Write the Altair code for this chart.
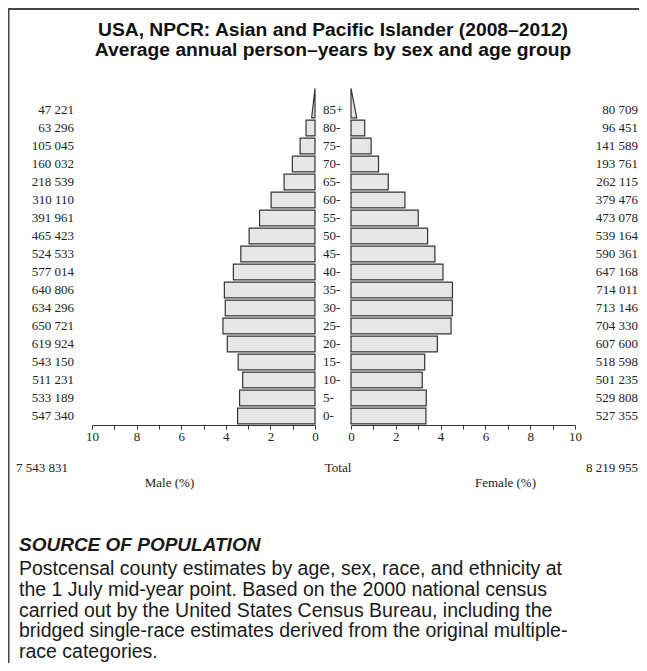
import altair as alt
import pandas as pd

# ---------------- data ----------------
age_groups = ["0-", "5-", "10-", "15-", "20-", "25-", "30-", "35-", "40-",
              "45-", "50-", "55-", "60-", "65-", "70-", "75-", "80-", "85+"]
male_counts = [547340, 533189, 511231, 543150, 619924, 650721, 634296, 640806,
               577014, 524533, 465423, 391961, 310110, 218539, 160032, 105045,
               63296, 47221]
female_counts = [527355, 529808, 501235, 518598, 607600, 704330, 713146, 714011,
                 647168, 590361, 539164, 473078, 379476, 262115, 193761, 141589,
                 96451, 80709]
male_total = 7543831
female_total = 8219955
axis_values = list(range(0, 11))

title_lines = ["USA, NPCR: Asian and Pacific Islander (2008\u20132012)",
               "Average annual person\u2013years by sex and age group"]
source_head = "SOURCE OF POPULATION"
source_lines = [
    "Postcensal county estimates by age, sex, race, and ethnicity at",
    "the 1 July mid-year point. Based on the 2000 national census",
    "carried out by the United States Census Bureau, including the",
    "bridged single-race estimates derived from the original multiple-",
    "race categories.",
]

# ---------------- derived tables ----------------
grand = male_total + female_total


def fmt(n):
    return f"{n:,}".replace(",", " ")


df = pd.DataFrame({
    "age": age_groups,
    "idx": list(range(len(age_groups))),
    "male": male_counts,
    "female": female_counts,
})
df["male_pct"] = df["male"] / grand * 100
df["female_pct"] = df["female"] / grand * 100
df["male_lbl"] = df["male"].map(fmt)
df["female_lbl"] = df["female"].map(fmt)

totals = pd.DataFrame({"m": [fmt(male_total)], "f": [fmt(female_total)]})
dummy = pd.DataFrame({"a": [0]})

W, H = 631, 417          # plot view; text below the axis sits in the padding
PAD_B = 238
SERIF = "Liberation Serif"
SANS = "Liberation Sans"
FILL = "#e6e6e6"
EDGE = "#333333"

yscale = alt.Scale(domain=[0, 18], range=[417, 93])
male_x = alt.Scale(domain=[0, 10], range=[307, 84])
female_x = alt.Scale(domain=[0, 10], range=[343, 567])

base = alt.Chart(df).transform_calculate(
    y0="datum.idx + 0.06", y1="datum.idx + 0.94", ym="datum.idx + 0.5"
)
bars_src = base.transform_filter("datum.idx < 17")
top_src = alt.Chart(df).transform_filter("datum.idx == 17").transform_calculate(
    k="[0, 1]"
).transform_flatten(["k"]).transform_calculate(
    ty="datum.k == 0 ? datum.idx + 0.06 : datum.idx + 1.7",
    tm="datum.k == 0 ? datum.male_pct / 2 : 0",
    tf="datum.k == 0 ? datum.female_pct / 2 : 0",
)


def axis(title, tx):
    return alt.Axis(
        orient="bottom", values=axis_values, grid=False,
        labelExpr="datum.value % 2 == 0 ? datum.label : ''",
        labelFont=SERIF, labelFontSize=13, labelColor="#222",
        labelPadding=1, tickSize=4, tickColor="#333", domainColor="#333",
        labelFlush=False, title=title, titleFont=SERIF, titleFontSize=13,
        titleFontWeight="normal", titleColor="#222", titleX=tx, titleY=57,
        titleAnchor="middle", titleBaseline="middle",
    )


male_bars = bars_src.mark_rect(fill=FILL, stroke=EDGE, strokeWidth=1.2).encode(
    x=alt.X("male_pct:Q", scale=male_x, axis=axis("Male (%)", 161)),
    x2=alt.datum(0),
    y=alt.Y("y0:Q", scale=yscale, axis=None),
    y2="y1:Q",
)
male_top = top_src.mark_area(orient="horizontal", fill=FILL, stroke=EDGE,
                             strokeWidth=1.2).encode(
    x=alt.X("tm:Q", scale=male_x, axis=None),
    x2=alt.datum(0),
    y=alt.Y("ty:Q", scale=yscale, axis=None),
)
female_bars = bars_src.mark_rect(fill=FILL, stroke=EDGE, strokeWidth=1.2).encode(
    x=alt.X("female_pct:Q", scale=female_x, axis=axis("Female (%)", 497)),
    x2=alt.datum(0),
    y=alt.Y("y0:Q", scale=yscale, axis=None),
    y2="y1:Q",
)
female_top = top_src.mark_area(orient="horizontal", fill=FILL, stroke=EDGE,
                               strokeWidth=1.2).encode(
    x=alt.X("tf:Q", scale=female_x, axis=None),
    x2=alt.datum(0),
    y=alt.Y("ty:Q", scale=yscale, axis=None),
)

txt = dict(font=SERIF, fontSize=13, color="#222", baseline="middle")
age_lbl = base.mark_text(align="left", **txt).encode(
    x=alt.value(315), y=alt.Y("ym:Q", scale=yscale, axis=None), text="age:N")
male_lbl = base.mark_text(align="right", **txt).encode(
    x=alt.value(66), y=alt.Y("ym:Q", scale=yscale, axis=None), text="male_lbl:N")
female_lbl = base.mark_text(align="right", **txt).encode(
    x=alt.value(630), y=alt.Y("ym:Q", scale=yscale, axis=None), text="female_lbl:N")

tot_m = alt.Chart(totals).mark_text(align="left", **txt).encode(
    x=alt.value(8), y=alt.value(460), text="m:N")
tot_f = alt.Chart(totals).mark_text(align="right", **txt).encode(
    x=alt.value(630), y=alt.value(460), text="f:N")
tot_c = alt.Chart(dummy).mark_text(align="center", text="Total", **txt).encode(
    x=alt.value(330), y=alt.value(460))

title = alt.Chart(dummy).mark_text(
    align="center", baseline="middle", font=SANS, fontSize=19.25, fontWeight="bold",
    color="#111", lineBreak="\n", lineHeight=20, text="\n".join(title_lines),
).encode(x=alt.value(325), y=alt.value(22))

src_head = alt.Chart(dummy).mark_text(
    align="left", baseline="middle", font=SANS, fontSize=19, fontWeight="bold",
    fontStyle="italic", color="#1a1a1a", text=source_head,
).encode(x=alt.value(11), y=alt.value(537))
src_body = alt.Chart(dummy).mark_text(
    align="left", baseline="top", font=SANS, fontSize=19.5, color="#1a1a1a",
    lineBreak="\n", lineHeight=20.75, text="\n".join(source_lines),
).encode(x=alt.value(11), y=alt.value(552))

frame_top = alt.Chart(dummy).mark_rule(color="#444", strokeWidth=2).encode(
    x=alt.value(0), x2=alt.value(W), y=alt.value(1))
frame_left = alt.Chart(dummy).mark_rule(color="#444", strokeWidth=1.5).encode(
    x=alt.value(0.75), y=alt.value(0), y2=alt.value(H + PAD_B))

chart = alt.layer(
    frame_top, frame_left, title,
    male_bars, male_top, female_bars, female_top,
    age_lbl, male_lbl, female_lbl,
    tot_m, tot_f, tot_c, src_head, src_body,
).resolve_scale(x="independent").properties(
    width=W, height=H, autosize=alt.AutoSizeParams(type="none"),
    padding={"left": 0, "top": 0, "right": 0, "bottom": PAD_B},
).configure_view(stroke=None)

chart.save("out.html", embed_options={"renderer": "svg", "actions": False})
